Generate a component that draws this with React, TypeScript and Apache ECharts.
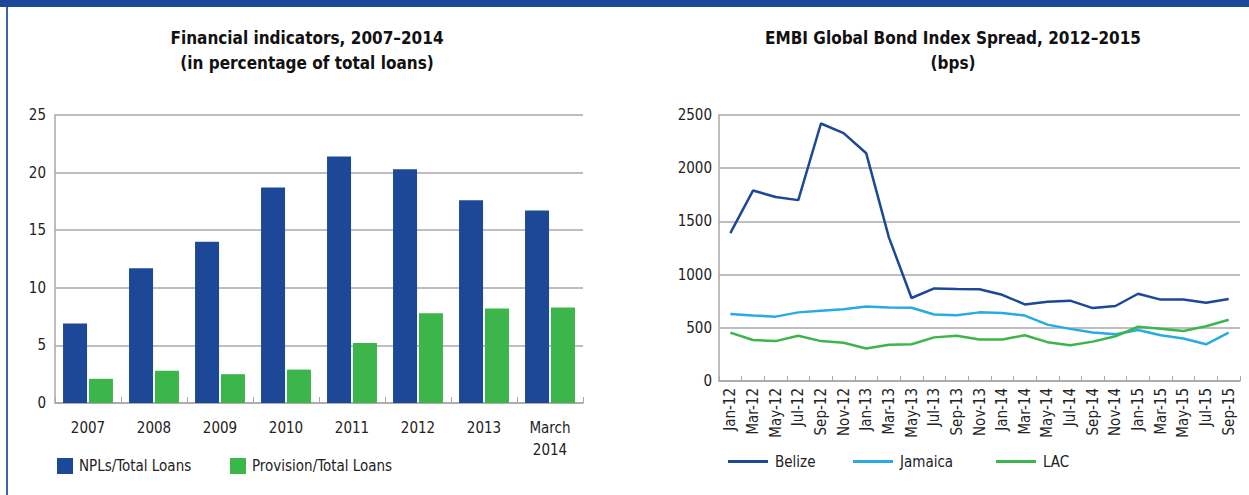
import React, { useEffect, useRef } from "react";
import * as echarts from "echarts";

const barCategories = ["2007", "2008", "2009", "2010", "2011", "2012", "2013", "March\n2014"];
const nplValues = [6.9, 11.7, 14.0, 18.7, 21.4, 20.3, 17.6, 16.7];
const provisionValues = [2.1, 2.8, 2.5, 2.9, 5.2, 7.8, 8.2, 8.3];

const monthLabels = [
  "Jan-12", "Mar-12", "May-12", "Jul-12", "Sep-12", "Nov-12",
  "Jan-13", "Mar-13", "May-13", "Jul-13", "Sep-13", "Nov-13",
  "Jan-14", "Mar-14", "May-14", "Jul-14", "Sep-14", "Nov-14",
  "Jan-15", "Mar-15", "May-15", "Jul-15", "Sep-15",
];
const belizeValues = [1390, 1790, 1730, 1700, 2420, 2330, 2140, 1350, 780, 870, 865, 862, 810, 720, 745, 755, 685, 705, 820, 765, 765, 735, 770];
const jamaicaValues = [630, 615, 605, 645, 660, 675, 700, 690, 688, 625, 617, 645, 640, 615, 530, 490, 455, 440, 480, 430, 400, 345, 455];
const lacValues = [455, 385, 375, 425, 375, 360, 305, 340, 345, 410, 425, 390, 390, 430, 365, 335, 370, 420, 510, 490, 470, 515, 575];

const FONT = "'Liberation Sans Narrow', 'Arial Narrow', 'DejaVu Sans Condensed', sans-serif";
const DARK_BLUE = "#1c4897";
const LIGHT_BLUE = "#29abe2";
const GREEN = "#3cb54a";
const GRID = "#a8a8a8";
const TEXT = "#222222";
const FS = 15;

export default function App() {
  const ref = useRef<HTMLDivElement>(null);
  useEffect(() => {
    if (!ref.current) return;
    const chart = echarts.init(ref.current, undefined, { renderer: "svg" });
    const axisLabelBase = { color: TEXT, fontFamily: FONT, fontSize: FS };
    const legendText = { color: TEXT, fontFamily: FONT, fontSize: FS, padding: [0, 0, 0, 1] };
    const barLegend = (name: string, left: number) => ({
      left, top: 458, itemWidth: 16, itemHeight: 16, icon: "rect", data: [name],
      textStyle: legendText, padding: 0,
    });
    const lineLegend = (name: string, left: number) => ({
      left, top: 454, itemWidth: 40, itemHeight: 3, icon: "rect", data: [name],
      textStyle: { ...legendText, padding: [0, 0, 0, 2] }, padding: 0,
    });
    const titleStyle = (text: string, x: number, y: number) => ({
      type: "text", x, y,
      style: { text, textAlign: "center", textVerticalAlign: "middle", font: `bold 17px ${FONT}`, fill: "#111" },
    });
    chart.setOption({
      animation: false,
      backgroundColor: "#ffffff",
      textStyle: { fontFamily: FONT },
      graphic: [
        { type: "rect", shape: { x: 0, y: 0, width: 1249, height: 7 }, style: { fill: DARK_BLUE } },
        { type: "rect", shape: { x: 6, y: 7, width: 2, height: 488 }, style: { fill: "#3a62ad" } },
        titleStyle("Financial indicators, 2007–2014", 307, 38),
        titleStyle("(in percentage of total loans)", 307, 63),
        titleStyle("EMBI Global Bond Index Spread, 2012–2015", 953, 38),
        titleStyle("(bps)", 953, 63),
      ],
      legend: [
        barLegend("NPLs/Total Loans", 57),
        barLegend("Provision/Total Loans", 230),
        lineLegend("Belize", 728),
        lineLegend("Jamaica", 853),
        lineLegend("LAC", 996),
      ],
      grid: [
        { left: 55, top: 115, width: 528, height: 288, containLabel: false },
        { left: 719, top: 115, width: 521, height: 266, containLabel: false },
      ],
      xAxis: [
        {
          gridIndex: 0, type: "category", data: barCategories, boundaryGap: true,
          axisLine: { lineStyle: { color: GRID, width: 1.5 } },
          axisTick: { show: true, inside: true, length: 6, alignWithLabel: false, lineStyle: { color: GRID } },
          axisLabel: { ...axisLabelBase, margin: 14, lineHeight: 22, interval: 0 },
        },
        {
          gridIndex: 1, type: "category", data: monthLabels, boundaryGap: true,
          axisLine: { lineStyle: { color: GRID, width: 1.5 } },
          axisTick: { show: true, inside: true, length: 5, lineStyle: { color: GRID } },
          axisLabel: { ...axisLabelBase, margin: 7, rotate: 90, interval: 0 },
        },
      ],
      yAxis: [
        {
          gridIndex: 0, type: "value", min: 0, max: 25, interval: 5,
          axisLine: { show: true, lineStyle: { color: GRID, width: 1.5 } },
          axisTick: { show: false },
          splitLine: { lineStyle: { color: GRID, width: 1.5 } },
          axisLabel: { ...axisLabelBase, margin: 9 },
        },
        {
          gridIndex: 1, type: "value", min: 0, max: 2500, interval: 500,
          axisLine: { show: true, lineStyle: { color: GRID, width: 1.5 } },
          axisTick: { show: false },
          splitLine: { lineStyle: { color: GRID, width: 1.5 } },
          axisLabel: { ...axisLabelBase, margin: 7, formatter: (v: number) => String(v) },
        },
      ],
      series: [
        {
          name: "NPLs/Total Loans", type: "bar", xAxisIndex: 0, yAxisIndex: 0,
          data: nplValues, barWidth: 24, barGap: "8%", itemStyle: { color: DARK_BLUE },
        },
        {
          name: "Provision/Total Loans", type: "bar", xAxisIndex: 0, yAxisIndex: 0,
          data: provisionValues, barWidth: 24, barGap: "8%", itemStyle: { color: GREEN },
        },
        {
          name: "Belize", type: "line", xAxisIndex: 1, yAxisIndex: 1, data: belizeValues,
          symbol: "none", lineStyle: { color: DARK_BLUE, width: 2.5 }, itemStyle: { color: DARK_BLUE },
        },
        {
          name: "Jamaica", type: "line", xAxisIndex: 1, yAxisIndex: 1, data: jamaicaValues,
          symbol: "none", lineStyle: { color: LIGHT_BLUE, width: 2.5 }, itemStyle: { color: LIGHT_BLUE },
        },
        {
          name: "LAC", type: "line", xAxisIndex: 1, yAxisIndex: 1, data: lacValues,
          symbol: "none", lineStyle: { color: GREEN, width: 2.5 }, itemStyle: { color: GREEN },
        },
      ],
    });
    return () => chart.dispose();
  }, []);
  return (
    <div
      ref={ref}
      style={{ position: "fixed", left: 0, top: 0, width: 1249, height: 495, background: "#fff" }}
    />
  );
}
